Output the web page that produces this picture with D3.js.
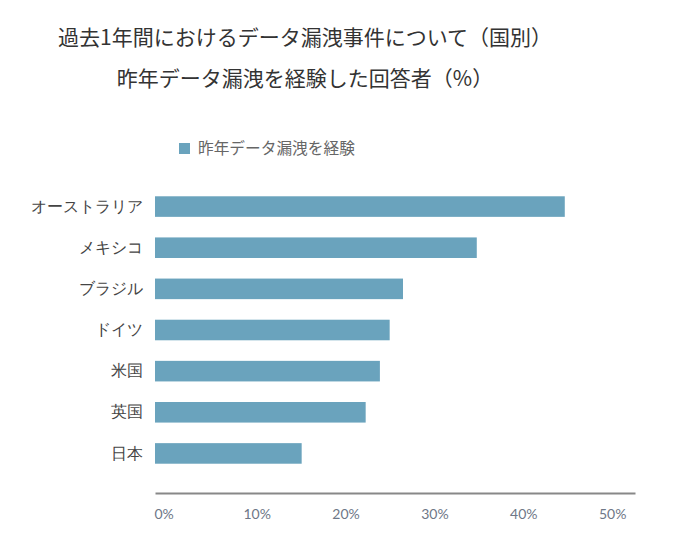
<!DOCTYPE html>
<html>
<head>
    <meta charset="utf-8">
    <title>データ漏洩</title>
    <script src="https://cdn.jsdelivr.net/npm/d3@7"></script>
    <style>
        html, body {
            margin: 0;
            background-color: #fff;
            font-family: "Noto Sans CJK JP", "Noto Sans", sans-serif;
        }
        svg .title {
            font-size: 21px;
            fill: #333;
            text-anchor: middle;
        }
        svg .cat text {
            font-size: 16px;
            fill: #444;
        }
        svg .val text {
            font-family: Lato, "DejaVu Sans", sans-serif;
            font-size: 14px;
            fill: #6e7787;
            text-anchor: start;
        }
        svg .legend text {
            font-size: 15.7px;
            fill: #666;
        }
    </style>
</head>
<body>
<svg></svg>
<script>
    // 国別の値 (%)
    var countries = ['オーストラリア', 'メキシコ', 'ブラジル', 'ドイツ', '米国', '英国', '日本'];
    var breached = [46.1, 36.2, 27.9, 26.4, 25.3, 23.7, 16.5];
    var ticks = [0, 10, 20, 30, 40, 50];
    var titles = ['過去1年間におけるデータ漏洩事件について（国別）', '昨年データ漏洩を経験した回答者（%）'];
    var seriesName = '昨年データ漏洩を経験';

    (function () {
        var w = 698,
            h = 551,
            barColor = '#6aa3bd';

        var svg = d3.select('svg')
                .attr('width', w)
                .attr('height', h);

        svg.selectAll('text.title')
            .data(titles)
            .enter().append('text')
            .attr('class', 'title')
            .attr('x', 305)
            .attr('y', function (d, i) { return 45 + i * 41; })
            .text(function (d) { return d; });

        // legend
        var lg = svg.append('g')
                .attr('class', 'legend')
                .attr('transform', 'translate(179,143)');
        lg.append('rect')
            .attr('width', 11).attr('height', 11)
            .style('fill', barColor);
        lg.append('text')
            .attr('x', 19).attr('y', 11)
            .text(seriesName);

        var x = d3.scaleLinear().domain([0, 54]).range([155, 635]);
        var y = d3.scaleBand().domain(countries)
                .range([186, 474]).paddingInner(0.5).paddingOuter(0.25);

        svg.selectAll('rect.bar')
            .data(breached)
            .enter().append('rect')
            .attr('class', 'bar')
            .attr('x', x(0))
            .attr('y', function (d, i) { return y(countries[i]); })
            .attr('width', function (d) { return x(d) - x(0); })
            .attr('height', y.bandwidth())
            .style('fill', barColor);

        // country labels
        var ya = svg.append('g')
                .attr('class', 'cat')
                .attr('transform', 'translate(' + x(0) + ',0)')
                .call(d3.axisLeft(y).tickSize(0).tickPadding(12));
        ya.select('.domain').remove();

        // value axis
        var xa = svg.append('g')
                .attr('class', 'val')
                .attr('transform', 'translate(0,493)')
                .call(d3.axisBottom(x).tickValues(ticks)
                    .tickFormat(function (d) { return d + '%'; })
                    .tickSize(0).tickPadding(16));
        xa.select('.domain')
            .style('stroke', '#888')
            .style('stroke-width', 2);
        xa.selectAll('.tick text').attr('dx', -1);
    })();
</script>
</body>
</html>
